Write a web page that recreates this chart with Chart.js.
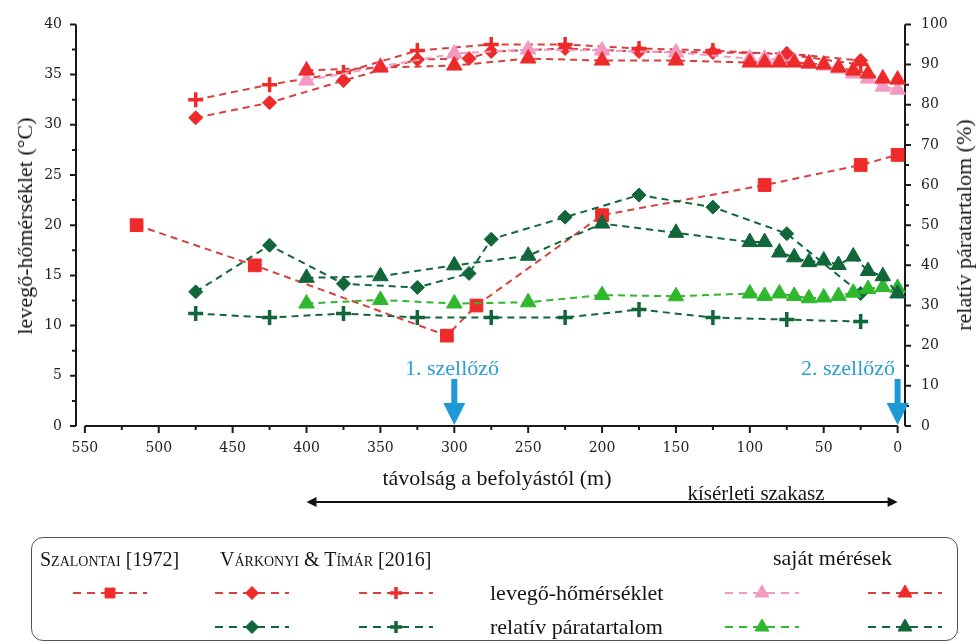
<!DOCTYPE html>
<html>
<head>
<meta charset="utf-8">
<script src="https://cdn.jsdelivr.net/npm/chart.js@4.4.1/dist/chart.umd.min.js"></script>
<style>
  body { margin: 0; background: #fff; }
  #wrap { position: relative; width: 977px; height: 643px; overflow: hidden; font-family: "Liberation Serif", serif; color: #151515; }
  #chart { position: absolute; left: 0; top: 0; }
  .t { position: absolute; white-space: nowrap; font-size: 22px; line-height: 1; }
  .c { transform: translate(-50%, -50%); }
  .rot { transform: translate(-50%, -50%) rotate(-90deg); }
  .note { color: #2a9fd6; }
  .sc { font-variant: small-caps; font-size: 20px; }
  #legendBox { position: absolute; left: 31px; top: 537px; width: 927px; height: 104px; border: 1.5px solid #555; border-radius: 12px; box-sizing: border-box; }
</style>
</head>
<body>
<div id="wrap">
  <div id="legendBox"></div>
  <canvas id="chart" width="977" height="643"></canvas>

  <div class="t rot" style="left:25px; top:226px;">levegő-hőmérséklet (°C)</div>
  <div class="t rot" style="left:964px; top:225px;">relatív páratartalom (%)</div>
  <div class="t c" style="left:497px; top:478px;">távolság a befolyástól (m)</div>
  <div class="t c" style="left:756px; top:493px; font-size:21px;">kísérleti szakasz</div>
  <div class="t c note" style="left:452px; top:368px;">1. szellőző</div>
  <div class="t c note" style="left:848px; top:368px;">2. szellőző</div>

  <div class="t sc" style="left:40px; top:549px;">Szalontai [1972]</div>
  <div class="t sc" style="left:220px; top:549px;">Várkonyi &amp; Tímár [2016]</div>
  <div class="t" style="left:773px; top:547px;">saját mérések</div>
  <div class="t" style="left:490px; top:582px;">levegő-hőmérséklet</div>
  <div class="t" style="left:490px; top:616px;">relatív páratartalom</div>
</div>

<script>
// distances from the inflow (m)
const szalontaiDist = [515, 435, 305, 285, 200, 90, 25, 0];
const szalontaiTemp = [20.0, 16.0, 9.0, 12.0, 21.0, 24.0, 26.0, 27.0];

const varkDiamondDist = [475, 425, 375, 325, 290, 275, 225, 175, 125, 75, 25];
const varkDiamondTemp = [30.7, 32.2, 34.4, 36.5, 36.6, 37.3, 37.6, 37.3, 37.2, 37.1, 36.4];
const varkDiamondHum = [33.4, 45.0, 35.4, 34.5, 38.0, 46.5, 52.0, 57.5, 54.5, 47.9, 33.0];

const varkPlusDist = [475, 425, 375, 325, 275, 225, 175, 125, 75, 25];
const varkPlusTemp = [32.5, 34.0, 35.2, 37.4, 38.0, 38.0, 37.6, 37.4, 37.0, 36.0];
const varkPlusHum = [28.0, 27.0, 28.0, 27.0, 27.0, 27.0, 29.0, 27.0, 26.5, 26.0];

const ownDist = [400, 350, 300, 250, 200, 150, 100, 90, 80, 70, 60, 50, 40, 30, 20, 10, 0];
const ownTempPink = [34.4, 35.8, 37.1, 37.5, 37.4, 37.2, 36.6, 36.6, 36.5, 36.3, 36.1, 35.9, 35.6, 35.1, 34.6, 33.8, 33.5];
const ownTempRed = [35.4, 35.7, 35.9, 36.6, 36.4, 36.4, 36.2, 36.2, 36.2, 36.2, 36.1, 36.0, 35.7, 35.4, 35.1, 34.6, 34.5];
const ownHumLight = [30.5, 31.4, 30.5, 30.8, 32.6, 32.3, 33.0, 32.4, 33.0, 32.4, 31.8, 32.0, 32.4, 33.2, 34.1, 34.6, 34.4];
const ownHumDark = [36.9, 37.3, 40.0, 42.4, 50.4, 48.1, 45.8, 45.8, 43.2, 42.0, 40.8, 41.2, 40.1, 42.2, 38.6, 37.3, 33.0];

const xTickValues = [0, 50, 100, 150, 200, 250, 300, 350, 400, 450, 500, 550];
const tempTickValues = [0, 5, 10, 15, 20, 25, 30, 35, 40];
const humTickValues = [0, 10, 20, 30, 40, 50, 60, 70, 80, 90, 100];
const ventDist = [300, 0];
const sectionDist = [400, 0];

const RED = '#ee2a2a', RED_LINE = '#d8403f';
const PINK = '#f39ac3';
const DGREEN = '#11663a';
const LGREEN = '#2fb82c';
const BLUE = '#1d9ad6';

function makeSet(label, dist, vals, axis, style, color, lineColor, radius, order) {
  const cross = style === 'cross';
  return {
    label: label,
    data: dist.map((d, i) => ({ x: d, y: vals[i] })),
    yAxisID: axis,
    borderColor: lineColor,
    borderWidth: 2,
    borderDash: [7, 5],
    pointStyle: style,
    pointRadius: radius,
    pointBackgroundColor: color,
    pointBorderColor: color,
    pointBorderWidth: cross ? 3.5 : 1,
    tension: 0,
    order: order,
    clip: false
  };
}

const datasets = [
  makeSet('Szalontai', szalontaiDist, szalontaiTemp, 'y', 'rect', RED, RED_LINE, 9, 9),
  makeSet('Várkonyi T diamond', varkDiamondDist, varkDiamondTemp, 'y', 'rectRot', RED, RED_LINE, 7, 6),
  makeSet('Várkonyi T plus', varkPlusDist, varkPlusTemp, 'y', 'cross', RED, RED_LINE, 7.5, 5),
  makeSet('saját T pink', ownDist, ownTempPink, 'y', 'triangle', PINK, PINK, 9, 2),
  makeSet('saját T red', ownDist, ownTempRed, 'y', 'triangle', RED, RED_LINE, 9, 1),
  makeSet('Várkonyi RH diamond', varkDiamondDist, varkDiamondHum, 'y2', 'rectRot', DGREEN, DGREEN, 7, 7),
  makeSet('Várkonyi RH plus', varkPlusDist, varkPlusHum, 'y2', 'cross', DGREEN, DGREEN, 7.5, 8),
  makeSet('saját RH light', ownDist, ownHumLight, 'y2', 'triangle', LGREEN, LGREEN, 9, 4),
  makeSet('saját RH dark', ownDist, ownHumDark, 'y2', 'triangle', DGREEN, DGREEN, 9, 3)
];

const tickFont = { family: 'DejaVu Serif', size: 14 };

const axesPlugin = {
  id: 'axesPlugin',
  beforeDatasetsDraw(chart) {
    const { ctx, scales: { x, y, y2 } } = chart;
    const area = chart.chartArea;
    ctx.save();
    ctx.strokeStyle = '#1a1a1a';
    ctx.lineWidth = 2;
    ctx.setLineDash([]);
    const yb = y.getPixelForValue(0), yt = y.getPixelForValue(40);
    ctx.beginPath();
    ctx.moveTo(x.getPixelForValue(550), yb);
    ctx.lineTo(x.getPixelForValue(0), yb);
    ctx.moveTo(area.left, yt);
    ctx.lineTo(area.left, yb);
    ctx.moveTo(area.right, y2.getPixelForValue(100));
    ctx.lineTo(area.right, y2.getPixelForValue(0));
    for (let v = 0; v <= 40; v += 2.5) {
      const py = y.getPixelForValue(v);
      ctx.moveTo(area.left, py);
      ctx.lineTo(area.left - (v % 5 === 0 ? 6 : 4), py);
    }
    for (let v = 0; v <= 100; v += 5) {
      const py = y2.getPixelForValue(v);
      ctx.moveTo(area.right, py);
      ctx.lineTo(area.right + (v % 10 === 0 ? 6 : 4), py);
    }
    for (let m = 0; m <= 550; m += 25) {
      const px = x.getPixelForValue(m);
      ctx.moveTo(px, yb);
      ctx.lineTo(px, yb + (m % 50 === 0 ? 7 : 4));
    }
    ctx.stroke();
    ctx.restore();
  },
  afterDatasetsDraw(chart) {
    const { ctx, scales: { x, y } } = chart;
    const yb = y.getPixelForValue(0);
    ctx.save();
    ctx.fillStyle = BLUE;
    ventDist.forEach(d => {
      const px = x.getPixelForValue(d);
      ctx.fillRect(px - 3, yb - 47, 6, 26);
      ctx.beginPath();
      ctx.moveTo(px - 11, yb - 23);
      ctx.lineTo(px + 11, yb - 23);
      ctx.lineTo(px, yb - 1);
      ctx.closePath();
      ctx.fill();
    });
    // experimental section arrow
    const ay = 502;
    const a0 = x.getPixelForValue(sectionDist[0]), a1 = x.getPixelForValue(sectionDist[1]);
    ctx.strokeStyle = '#111';
    ctx.fillStyle = '#111';
    ctx.lineWidth = 2;
    ctx.beginPath();
    ctx.moveTo(a0 + 6, ay);
    ctx.lineTo(a1 - 6, ay);
    ctx.stroke();
    [[a0, 1], [a1, -1]].forEach(([px, dir]) => {
      ctx.beginPath();
      ctx.moveTo(px, ay);
      ctx.lineTo(px + dir * 10, ay - 5);
      ctx.lineTo(px + dir * 10, ay + 5);
      ctx.closePath();
      ctx.fill();
    });
    ctx.restore();
  },
  afterDraw(chart) {
    const ctx = chart.ctx;
    const samples = [
      { cx: 110, cy: 593, style: 'rect', color: RED, line: RED_LINE, r: 7 },
      { cx: 252, cy: 593, style: 'rectRot', color: RED, line: RED_LINE, r: 6.5 },
      { cx: 396, cy: 593, style: 'cross', color: RED, line: RED_LINE, r: 6 },
      { cx: 762, cy: 593, style: 'triangle', color: PINK, line: PINK, r: 8 },
      { cx: 905, cy: 593, style: 'triangle', color: RED, line: RED_LINE, r: 8 },
      { cx: 252, cy: 627, style: 'rectRot', color: DGREEN, line: DGREEN, r: 6.5 },
      { cx: 396, cy: 627, style: 'cross', color: DGREEN, line: DGREEN, r: 6 },
      { cx: 762, cy: 627, style: 'triangle', color: LGREEN, line: LGREEN, r: 8 },
      { cx: 905, cy: 627, style: 'triangle', color: DGREEN, line: DGREEN, r: 8 }
    ];
    ctx.save();
    samples.forEach(s => {
      ctx.setLineDash([8, 6]);
      ctx.lineWidth = 2;
      ctx.strokeStyle = s.line;
      ctx.beginPath();
      ctx.moveTo(s.cx - 37, s.cy);
      ctx.lineTo(s.cx + 37, s.cy);
      ctx.stroke();
      ctx.setLineDash([]);
      ctx.fillStyle = s.color;
      ctx.strokeStyle = s.color;
      ctx.lineWidth = s.style === 'cross' ? 3.5 : 1;
      Chart.helpers.drawPoint(ctx, { pointStyle: s.style, radius: s.r, borderWidth: ctx.lineWidth, rotation: 0 }, s.cx, s.cy);
    });
    ctx.restore();
  }
};

new Chart(document.getElementById('chart'), {
  type: 'line',
  data: { datasets: datasets },
  options: {
    responsive: false,
    animation: false,
    layout: { padding: { top: 18, bottom: 147, left: 0, right: 0 } },
    plugins: { legend: { display: false }, tooltip: { enabled: false } },
    scales: {
      x: {
        type: 'linear', reverse: true, min: -5, max: 556,
        grid: { display: false, drawTicks: false },
        border: { display: false },
        afterBuildTicks: s => { s.ticks = xTickValues.map(v => ({ value: v })); },
        afterFit: s => { s.height = 70; },
        ticks: { font: tickFont, color: '#222', padding: 14, maxRotation: 0, autoSkip: false }
      },
      y: {
        position: 'left', min: 0, max: 40,
        grid: { display: false, drawTicks: false },
        border: { display: false },
        afterBuildTicks: s => { s.ticks = tempTickValues.map(v => ({ value: v })); },
        afterFit: s => { s.width = 76; },
        ticks: { font: tickFont, color: '#222', padding: 14 }
      },
      y2: {
        position: 'right', min: 0, max: 100,
        grid: { display: false, drawTicks: false },
        border: { display: false },
        afterBuildTicks: s => { s.ticks = humTickValues.map(v => ({ value: v })); },
        afterFit: s => { s.width = 72; },
        ticks: { font: tickFont, color: '#222', padding: 16 }
      }
    }
  },
  plugins: [axesPlugin]
});
</script>
</body>
</html>
